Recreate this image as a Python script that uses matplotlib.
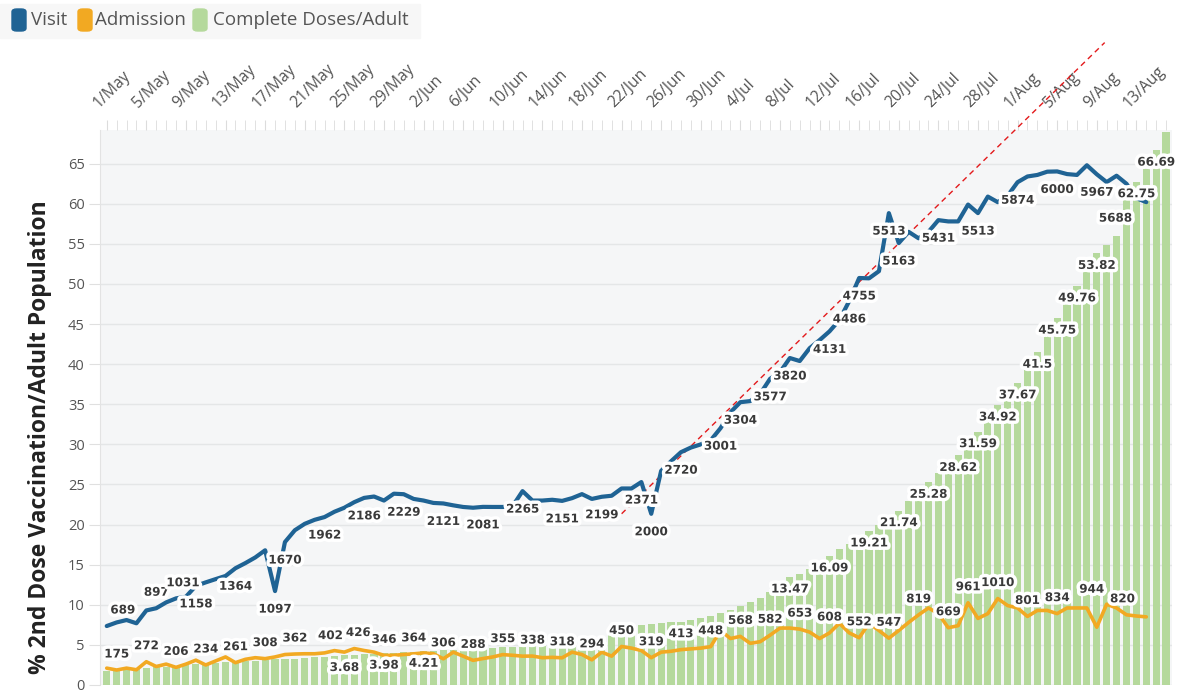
import matplotlib.pyplot as plt
import matplotlib.patheffects as pe
from matplotlib.patches import FancyBboxPatch
from matplotlib.transforms import ScaledTranslation
import numpy as np
import pandas as pd

nan = np.nan

# Daily data, 1 May - 16 Aug
dates = pd.date_range('2021-05-01', '2021-08-16', freq='D')

visit = [689, 731, 759, 721, 871, 897, 965, 1012, 1031, 1158,
         1199, 1237, 1274, 1364, 1424, 1490, 1574, 1097, 1670, 1808,
         1883, 1930, 1962, 2024, 2071, 2136, 2186, 2202, 2155, 2235,
         2229, 2174, 2155, 2127, 2121, 2099, 2080, 2071, 2081, 2080,
         2080, 2090, 2265, 2155, 2155, 2164, 2151, 2183, 2230, 2174,
         2199, 2211, 2296, 2296, 2371, 2000, 2502, 2614, 2720, 2774,
         2811, 2858, 3001, 3186, 3304, 3317, 3401, 3577, 3654, 3820,
         3785, 3935, 4029, 4131, 4263, 4486, 4755, 4751, 4835, 5513,
         5163, 5294, 5219, 5294, 5431, 5416, 5416, 5613, 5513, 5706,
         5641, 5716, 5874, 5941, 5959, 5997, 6000, 5969, 5959, 6072,
         5967, 5875, 5950, 5856, 5688, 5641, nan, nan]

admission = [197, 175, 197, 178, 272, 216, 244, 206, 244, 290,
             234, 281, 328, 261, 300, 319, 308, 328, 356, 362,
             365, 365, 375, 402, 384, 426, 403, 384, 346, 347,
             356, 364, 375, 365, 306, 384, 337, 288, 309, 328,
             355, 347, 337, 338, 319, 323, 318, 384, 356, 294,
             384, 337, 450, 431, 403, 319, 384, 394, 413, 422,
             431, 448, 637, 543, 568, 487, 506, 582, 665, 665,
             653, 618, 543, 608, 721, 609, 552, 721, 637, 547,
             637, 731, 819, 900, 834, 669, 693, 961, 778, 834,
             1010, 928, 900, 801, 871, 871, 834, 900, 900, 900,
             675, 944, 900, 820, 806, 796, nan, nan]

doses = [1.8, 1.9, 2.0, 2.0, 2.1, 2.2, 2.3, 2.4, 2.5, 2.6,
         2.7, 2.8, 2.85, 2.9, 3.0, 3.05, 3.1, 3.2, 3.25, 3.3,
         3.4, 3.45, 3.55, 3.6, 3.68, 3.75, 3.82, 3.9, 3.98, 4.05,
         4.1, 4.15, 4.21, 4.28, 4.35, 4.4, 4.45, 4.5, 4.55, 4.6,
         4.7, 4.75, 4.8, 4.85, 4.9, 4.95, 5.0, 5.1, 5.2, 5.3,
         5.4, 7.2, 7.3, 7.4, 7.5, 7.6, 7.7, 7.8, 7.9, 8.1,
         8.3, 8.6, 9.0, 9.4, 9.8, 10.3, 10.9, 11.6, 12.4, 13.47,
         13.9, 14.5, 15.1, 16.09, 16.9, 17.6, 18.4, 19.21, 20.0, 20.8,
         21.74, 22.9, 24.1, 25.28, 26.4, 27.5, 28.62, 30.1, 31.59, 33.2,
         34.92, 36.3, 37.67, 39.6, 41.5, 43.6, 45.75, 47.7, 49.76, 51.8,
         53.82, 54.8, 56.0, 60.5, 62.75, 64.3, 66.69, 69.0]

# days (index into the series) that carry a value label
visit_label_days = [0, 5, 8, 9, 13, 17, 18, 22, 26, 30, 34, 38, 42, 46, 50, 54,
                    55, 58, 62, 64, 67, 69, 73, 75, 76, 79, 80, 84, 88, 92, 96,
                    100, 104]
admission_label_days = [1, 4, 7, 10, 13, 16, 19, 23, 25, 28, 31, 34, 37, 40, 43,
                        46, 49, 52, 55, 58, 61, 64, 67, 70, 73, 76, 79, 82, 85,
                        87, 90, 93, 96, 101, 103]
dose_label_days = [24, 28, 32, 69, 73, 77, 80, 83, 86, 88, 90, 92, 94, 96, 98,
                   100, 104, 106]

# label offsets in pixels (dx, dy down), defaults below
visit_offsets = {0: (16, -16), 5: (0, -16), 8: (-3, -14), 104: (-21, 20)}
admission_offsets = {23: (-4, -15), 25: (4, -16), 101: (-15, -15), 103: (-4, -16)}

C_VISIT = '#1f6394'
C_ADM = '#f2a922'
C_DOSE = '#b5d99c'
W, H = 1184, 696

x = np.arange(len(dates))
tick_labels = [f"{d.day}/{d:%b}" for d in dates]

fig = plt.figure(figsize=(W / 100, H / 100), dpi=100)
ax = fig.add_axes([100 / W, 11 / H, 1072 / W, 555 / H])
ax.set_facecolor('#f5f6f7')

ax.bar(x, doses, width=0.72, color=C_DOSE, zorder=2)
ax.set_xlim(-0.68, 107.6)
ax.set_ylim(0, 69.2)
ax.set_yticks(range(0, 70, 5))
ax.grid(axis='y', color='#e4e6e7', lw=1)
ax.set_axisbelow(True)
for s in ['top', 'right', 'bottom']:
    ax.spines[s].set_visible(False)
ax.spines['left'].set_color('#e3e3e3')

# top date axis
ax.xaxis.tick_top()
ax.set_xticks(x[::4])
ax.set_xticklabels(tick_labels[::4], rotation=45, ha='left', va='bottom',
                   rotation_mode='anchor', fontsize=11.3, color='#555555',
                   family='Open Sans')
ax.set_xticks(x, minor=True)
ax.tick_params(axis='x', which='both', length=7, color='#dcdcdc', pad=7)
shift = ScaledTranslation(-5 / 100, 0, fig.dpi_scale_trans)
for lbl in ax.get_xticklabels():
    lbl.set_transform(lbl.get_transform() + shift)

ax.tick_params(axis='y', length=8, color='#e0e0e0', labelsize=10.5,
               labelcolor='#555555', pad=3)
for lbl in ax.get_yticklabels():
    lbl.set_family('Open Sans')

# lines on a hidden secondary axis (counts)
ax2 = ax.twinx()
ax2.set_ylim(0, 69.2 * 93.7)
ax2.axis('off')
ax2.plot(x, visit, color=C_VISIT, lw=3, solid_capstyle='round',
         solid_joinstyle='round', zorder=3)
ax2.plot(x, admission, color=C_ADM, lw=2.6, solid_capstyle='round',
         solid_joinstyle='round', zorder=3)

halo = [pe.withStroke(linewidth=5, foreground='white')]
lab_kw = dict(textcoords='offset points', ha='center', va='center',
              fontsize=8.6, fontweight='bold', color='#3a3a3a',
              family='DejaVu Sans', path_effects=halo, zorder=5)

for d in dose_label_days:
    ax2.annotate(f"{doses[d]:g}", xy=(d, doses[d]), xycoords=ax.transData,
                 xytext=(0, -12 * 0.72), annotation_clip=False, **lab_kw)

for d in admission_label_days:
    dx, dy = admission_offsets.get(d, (0, -16))
    ax2.annotate(f"{admission[d]:.0f}", xy=(d, admission[d]),
                 xytext=(dx * 0.72, -dy * 0.72), **lab_kw)

for d in visit_label_days:
    dx, dy = visit_offsets.get(d, (0, 18))
    ax2.annotate(f"{visit[d]:.0f}", xy=(d, visit[d]),
                 xytext=(dx * 0.72, -dy * 0.72), **lab_kw)

# red dashed trend annotation
ax.plot([51.3, 100.8], [20.5, 80.1], ls=(0, (4, 3)), color='#e31a1c', lw=1,
        clip_on=False, zorder=6)

# y label
fig.text(40 / W, 1 - 437 / H, '% 2nd Dose Vaccination/Adult Population',
         rotation=90, ha='center', va='center', fontsize=16.5,
         fontweight='bold', color='#222222', family='Open Sans')

# legend
fig.patches.append(FancyBboxPatch((0, 1 - 38 / H), 420 / W, 34 / H,
                                  boxstyle='square,pad=0', color='#f7f7f7',
                                  transform=fig.transFigure, zorder=0))
legend_items = [('Visit', C_VISIT, 12, 31), ('Admission', C_ADM, 78, 95),
                ('Complete Doses/Adult', C_DOSE, 193, 213)]
for name, col, mx, tx in legend_items:
    fig.patches.append(FancyBboxPatch((mx / W, 1 - 31 / H), 14 / W, 22 / H,
                                      boxstyle='round,pad=0,rounding_size=0.004',
                                      color=col, transform=fig.transFigure))
    fig.text(tx / W, 1 - 20 / H, name, ha='left', va='center', fontsize=13.5,
             color='#555555', family='Open Sans')

fig.savefig('out.png', dpi=100)
